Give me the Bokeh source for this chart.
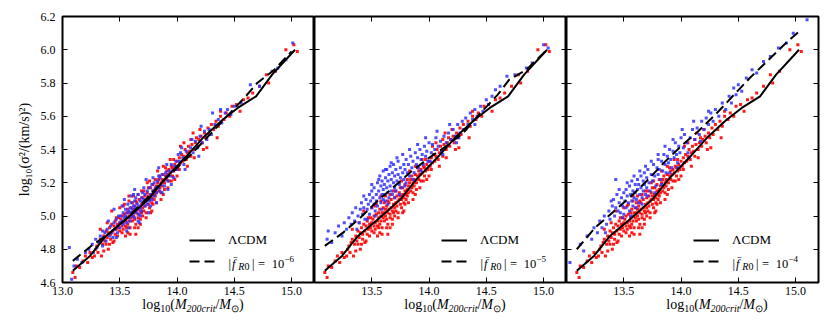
from bokeh.plotting import figure
from bokeh.layouts import row, column
from bokeh.models import Range1d, LinearAxis, FixedTicker, Label, Legend, LegendItem, Div
from bokeh.core.properties import value
from bokeh.embed import file_html
from bokeh.resources import INLINE

# ---------------- data ----------------
x_ticks = [13.0, 13.5, 14.0, 14.5, 15.0]
x_tick_labels = ["13.0", "13.5", "14.0", "14.5", "15.0"]
y_ticks = [4.6, 4.8, 5.0, 5.2, 5.4, 5.6, 5.8, 6.0, 6.2]
y_tick_labels = ["4.6", "4.8", "5.0", "5.2", "5.4", "5.6", "5.8", "6.0", "6.2"]
fr_exponents = ["6", "5", "4"]

# LCDM mean relation (solid line), same in all panels
lcdm_line_x = [13.09, 13.24, 13.38, 13.57, 13.75, 13.89, 14.07, 14.24, 14.40, 14.53, 14.69, 14.83, 15.03]
lcdm_line_y = [4.67, 4.76, 4.88, 4.99, 5.10, 5.22, 5.35, 5.48, 5.58, 5.65, 5.72, 5.85, 6.00]

# f(R) relations (dashed lines)
fr6_line_x = [13.09, 13.25, 13.40, 13.55, 13.70, 13.85, 14.00, 14.15, 14.30, 14.45, 14.60, 14.70, 14.85, 15.00]
fr6_line_y = [4.73, 4.82, 4.89, 4.98, 5.08, 5.19, 5.29, 5.39, 5.50, 5.61, 5.72, 5.80, 5.88, 5.99]
fr5_line_x = [13.09, 13.25, 13.40, 13.55, 13.70, 13.85, 14.00, 14.15, 14.30, 14.45, 14.60, 14.70, 14.85, 15.03]
fr5_line_y = [4.82, 4.90, 4.99, 5.09, 5.18, 5.27, 5.35, 5.42, 5.50, 5.62, 5.73, 5.82, 5.88, 6.00]
fr4_line_x = [13.09, 13.25, 13.40, 13.55, 13.70, 13.85, 14.00, 14.15, 14.30, 14.45, 14.60, 14.75, 14.90, 15.03]
fr4_line_y = [4.80, 4.93, 5.02, 5.11, 5.21, 5.32, 5.42, 5.51, 5.61, 5.72, 5.83, 5.93, 6.03, 6.11]

# LCDM haloes (red), same in all panels
lcdm_halos = [
    (13.09, 4.66), (13.11, 4.63), (13.12, 4.70), (13.15, 4.69), (13.18, 4.73), (13.20, 4.76), (13.22, 4.72), (13.24, 4.78),
    (13.26, 4.75), (13.28, 4.76), (13.29, 4.80), (13.30, 4.82), (13.31, 4.78), (13.32, 4.84), (13.33, 4.86), (13.34, 4.76),
    (13.35, 4.83), (13.36, 4.88), (13.37, 4.85), (13.38, 4.91), (13.38, 4.83), (13.39, 4.87), (13.40, 4.90), (13.40, 4.80),
    (13.41, 4.93), (13.42, 4.86), (13.42, 4.89), (13.43, 4.95), (13.44, 4.91), (13.44, 4.84), (13.45, 4.94), (13.46, 4.89),
    (13.46, 4.97), (13.47, 4.92), (13.48, 4.95), (13.48, 4.88), (13.49, 4.99), (13.49, 4.93), (13.50, 4.96), (13.50, 4.91),
    (13.50, 5.05), (13.43, 5.03),
    (13.51, 4.98), (13.52, 4.94), (13.52, 5.00), (13.53, 4.96), (13.53, 4.92), (13.54, 5.01), (13.55, 4.97), (13.55, 4.94),
    (13.56, 5.02), (13.56, 4.99), (13.57, 4.95), (13.57, 5.04), (13.58, 5.00), (13.58, 4.97), (13.59, 4.93), (13.59, 5.02),
    (13.60, 5.05), (13.60, 4.99), (13.55, 4.88), (13.58, 5.09), (13.53, 5.06), (13.57, 4.90),
    (13.61, 5.02), (13.61, 4.97), (13.62, 5.04), (13.62, 5.00), (13.63, 4.98), (13.63, 5.06), (13.64, 5.02), (13.64, 4.95),
    (13.65, 5.04), (13.65, 5.08), (13.66, 5.01), (13.66, 4.99), (13.67, 5.05), (13.67, 5.10), (13.68, 5.03), (13.68, 4.98),
    (13.69, 5.07), (13.69, 5.02), (13.70, 5.05), (13.70, 5.11), (13.62, 5.12), (13.66, 4.93), (13.69, 5.15), (13.64, 5.09),
    (13.71, 5.08), (13.71, 5.03), (13.72, 5.06), (13.72, 5.12), (13.73, 5.09), (13.73, 5.02), (13.74, 5.10), (13.74, 5.14),
    (13.75, 5.07), (13.75, 5.12), (13.76, 5.10), (13.76, 5.05), (13.77, 5.13), (13.77, 5.17), (13.78, 5.11), (13.78, 5.08),
    (13.79, 5.15), (13.79, 5.19), (13.80, 5.13), (13.80, 5.10), (13.74, 5.20), (13.78, 5.03),
    (13.81, 5.16), (13.81, 5.12), (13.82, 5.18), (13.82, 5.14), (13.83, 5.20), (13.84, 5.15), (13.84, 5.22), (13.85, 5.17),
    (13.86, 5.20), (13.86, 5.14), (13.87, 5.22), (13.87, 5.18), (13.88, 5.25), (13.89, 5.20), (13.89, 5.16), (13.90, 5.24),
    (13.83, 5.27), (13.88, 5.30),
    (13.91, 5.22), (13.91, 5.27), (13.92, 5.25), (13.93, 5.21), (13.93, 5.28), (13.94, 5.26), (13.95, 5.30), (13.96, 5.24),
    (13.96, 5.29), (13.97, 5.27), (13.98, 5.31), (13.99, 5.28), (14.00, 5.33), (13.94, 5.34), (13.98, 5.22),
    (14.01, 5.30), (14.02, 5.35), (14.03, 5.32), (14.04, 5.37), (14.05, 5.33), (14.06, 5.36), (14.07, 5.40), (14.08, 5.34),
    (14.09, 5.38), (14.10, 5.42), (14.03, 5.42),
    (14.11, 5.39), (14.12, 5.36), (14.13, 5.43), (14.15, 5.40), (14.16, 5.44), (14.17, 5.47), (14.18, 5.42), (14.19, 5.46),
    (14.14, 5.50),
    (14.21, 5.48), (14.22, 5.44), (14.24, 5.50), (14.25, 5.47), (14.27, 5.53), (14.28, 5.49), (14.30, 5.55), (14.26, 5.41),
    (14.32, 5.52), (14.34, 5.57), (14.36, 5.54), (14.38, 5.60), (14.41, 5.58), (14.43, 5.62), (14.46, 5.60), (14.48, 5.66),
    (14.35, 5.47), (14.38, 5.63),
    (14.52, 5.67), (14.55, 5.63), (14.58, 5.70), (14.62, 5.71), (14.66, 5.74), (14.72, 5.78), (14.80, 5.80), (14.78, 5.85),
    (14.86, 5.87), (14.95, 6.00), (15.02, 6.03), (15.05, 5.99),
    (13.45, 4.85), (13.47, 4.99), (13.52, 4.90), (13.54, 5.07), (13.56, 4.93), (13.59, 4.89), (13.61, 5.08), (13.63, 4.93),
    (13.66, 5.13), (13.68, 4.95), (13.70, 5.00), (13.71, 5.15), (13.73, 4.99), (13.75, 5.17), (13.77, 5.02), (13.79, 5.07),
    (13.81, 5.22), (13.82, 5.08), (13.85, 5.24), (13.86, 5.10), (13.88, 5.13), (13.90, 5.29), (13.92, 5.17), (13.95, 5.21),
    (13.97, 5.34), (14.00, 5.24), (14.02, 5.28), (14.06, 5.44), (14.09, 5.30), (14.12, 5.46), (14.15, 5.35), (14.20, 5.52),
    (14.23, 5.40), (13.36, 4.79), (13.33, 4.92), (13.41, 4.83), (13.39, 4.96), (13.58, 5.12), (13.64, 4.89), (13.76, 5.21),
]

# f(R) haloes (blue), |f_R0| = 1e-6
fr6_halos = [
    (13.06, 4.81), (13.08, 4.62), (13.10, 4.70), (13.13, 4.74), (13.17, 4.72), (13.20, 4.78), (13.23, 4.80), (13.26, 4.83),
    (13.27, 4.78), (13.29, 4.86), (13.30, 4.81), (13.32, 4.84), (13.33, 4.88), (13.35, 4.82), (13.36, 4.87), (13.37, 4.90),
    (13.38, 4.85), (13.39, 4.92),
    (13.41, 4.88), (13.42, 4.94), (13.43, 4.90), (13.44, 4.87), (13.45, 4.96), (13.46, 4.92), (13.47, 4.98), (13.48, 4.90),
    (13.48, 4.94), (13.49, 5.00), (13.50, 4.96), (13.50, 4.93), (13.45, 5.04),
    (13.51, 5.00), (13.52, 4.97), (13.53, 5.02), (13.53, 4.95), (13.54, 4.99), (13.55, 5.04), (13.55, 5.00), (13.56, 4.96),
    (13.57, 5.02), (13.57, 5.07), (13.58, 4.99), (13.58, 5.03), (13.59, 5.05), (13.59, 4.97), (13.60, 5.02), (13.60, 5.08),
    (13.54, 5.10), (13.56, 4.91),
    (13.61, 5.04), (13.61, 5.00), (13.62, 5.06), (13.62, 5.02), (13.63, 5.09), (13.63, 4.99), (13.64, 5.05), (13.64, 5.11),
    (13.65, 5.02), (13.65, 5.07), (13.66, 5.04), (13.66, 5.13), (13.67, 5.06), (13.67, 5.01), (13.68, 5.09), (13.68, 5.05),
    (13.69, 5.11), (13.69, 5.03), (13.70, 5.08), (13.70, 5.14), (13.63, 5.16), (13.67, 4.96),
    (13.71, 5.10), (13.72, 5.06), (13.72, 5.13), (13.73, 5.09), (13.74, 5.15), (13.74, 5.07), (13.75, 5.11), (13.76, 5.17),
    (13.76, 5.09), (13.77, 5.13), (13.78, 5.19), (13.78, 5.10), (13.79, 5.15), (13.80, 5.12), (13.80, 5.20), (13.73, 5.22),
    (13.81, 5.17), (13.82, 5.14), (13.83, 5.21), (13.84, 5.17), (13.85, 5.23), (13.85, 5.15), (13.86, 5.19), (13.87, 5.25),
    (13.88, 5.21), (13.89, 5.18), (13.90, 5.26), (13.84, 5.29),
    (13.91, 5.24), (13.92, 5.21), (13.93, 5.27), (13.94, 5.24), (13.95, 5.31), (13.96, 5.27), (13.97, 5.23), (13.98, 5.30),
    (13.99, 5.33), (14.00, 5.28),
    (14.02, 5.33), (14.03, 5.38), (14.05, 5.35), (14.06, 5.31), (14.08, 5.39), (14.10, 5.36), (14.12, 5.41), (14.14, 5.38),
    (14.16, 5.45), (14.18, 5.41), (14.20, 5.48), (14.22, 5.44), (14.24, 5.51), (14.26, 5.46), (14.28, 5.52), (14.30, 5.49),
    (14.31, 5.62), (14.33, 5.55), (14.36, 5.58), (14.38, 5.64), (14.39, 5.56), (14.42, 5.62), (14.44, 5.64), (14.47, 5.61),
    (14.50, 5.66), (14.56, 5.68), (14.64, 5.79), (14.72, 5.78), (14.83, 5.87), (14.88, 5.89), (14.95, 5.94), (15.01, 6.04),
    (13.47, 4.87), (13.52, 5.06), (13.58, 4.93), (13.62, 5.13), (13.66, 4.97), (13.71, 5.17), (13.75, 5.02), (13.79, 5.23),
    (13.82, 5.08), (13.87, 5.14), (13.91, 5.31), (13.95, 5.19), (14.01, 5.37), (14.07, 5.28), (14.13, 5.46), (14.19, 5.36),
    (13.40, 4.97), (13.35, 4.91), (13.60, 5.12), (13.68, 5.00), (13.77, 5.06), (13.84, 5.24), (13.92, 5.16), (14.04, 5.41),
    (14.21, 5.54),
]

# f(R) haloes (blue), |f_R0| = 1e-5
fr5_halos = [
    (13.11, 4.86), (13.12, 4.91), (13.15, 4.84), (13.18, 4.90), (13.21, 4.94), (13.24, 4.88), (13.26, 4.96), (13.28, 4.92),
    (13.30, 4.99), (13.32, 4.95), (13.33, 5.02), (13.35, 4.97), (13.36, 5.05), (13.38, 5.00), (13.39, 4.96), (13.40, 5.04),
    (13.41, 5.08), (13.42, 5.01), (13.43, 5.05), (13.44, 4.98), (13.45, 5.10), (13.46, 5.04), (13.47, 5.07), (13.48, 5.13),
    (13.48, 5.01), (13.49, 5.09), (13.50, 5.05), (13.50, 5.15),
    (13.51, 5.11), (13.52, 5.07), (13.52, 5.17), (13.53, 5.03), (13.54, 5.13), (13.54, 5.09), (13.55, 5.20), (13.55, 5.06),
    (13.56, 5.15), (13.57, 5.11), (13.57, 5.24), (13.58, 5.08), (13.58, 5.18), (13.59, 5.13), (13.59, 5.21), (13.60, 5.10),
    (13.60, 5.16), (13.60, 5.27),
    (13.61, 5.19), (13.61, 5.13), (13.62, 5.23), (13.62, 5.09), (13.63, 5.17), (13.63, 5.28), (13.64, 5.14), (13.64, 5.21),
    (13.65, 5.25), (13.65, 5.11), (13.66, 5.18), (13.66, 5.30), (13.67, 5.15), (13.67, 5.22), (13.68, 5.26), (13.68, 5.13),
    (13.69, 5.20), (13.69, 5.31), (13.70, 5.17), (13.70, 5.24),
    (13.71, 5.28), (13.71, 5.15), (13.72, 5.21), (13.73, 5.25), (13.73, 5.33), (13.74, 5.19), (13.75, 5.23), (13.75, 5.29),
    (13.76, 5.17), (13.77, 5.26), (13.78, 5.31), (13.78, 5.22), (13.79, 5.28), (13.80, 5.20), (13.80, 5.34),
    (13.81, 5.26), (13.82, 5.31), (13.83, 5.24), (13.84, 5.36), (13.85, 5.29), (13.86, 5.33), (13.87, 5.26), (13.88, 5.38),
    (13.89, 5.31), (13.90, 5.35),
    (13.91, 5.29), (13.92, 5.40), (13.93, 5.34), (13.94, 5.37), (13.95, 5.31), (13.96, 5.42), (13.97, 5.36), (13.98, 5.39),
    (13.99, 5.33), (14.00, 5.44),
    (14.02, 5.38), (14.03, 5.43), (14.05, 5.40), (14.06, 5.47), (14.08, 5.42), (14.10, 5.45), (14.11, 5.39), (14.13, 5.48),
    (14.15, 5.44), (14.17, 5.50), (14.19, 5.46), (14.21, 5.52), (14.23, 5.48), (14.25, 5.55), (14.26, 5.47), (14.27, 5.50),
    (14.29, 5.57), (14.30, 5.52),
    (14.32, 5.59), (14.34, 5.55), (14.36, 5.62), (14.38, 5.58), (14.40, 5.64), (14.40, 5.55), (14.42, 5.60), (14.45, 5.66),
    (14.47, 5.63), (14.50, 5.70), (14.52, 5.67), (14.55, 5.72), (14.58, 5.76), (14.62, 5.78), (14.68, 5.84), (14.75, 5.85),
    (14.85, 5.89), (14.90, 5.92), (15.00, 6.03), (15.04, 6.01),
    (13.46, 4.98), (13.50, 5.19), (13.53, 5.00), (13.56, 5.22), (13.59, 5.04), (13.62, 5.28), (13.64, 5.07), (13.67, 5.32),
    (13.70, 5.11), (13.72, 5.35), (13.74, 5.13), (13.77, 5.37), (13.79, 5.18), (13.83, 5.40), (13.86, 5.22), (13.90, 5.43),
    (13.93, 5.27), (13.97, 5.47), (14.01, 5.33), (14.07, 5.51), (14.12, 5.37), (14.18, 5.55), (14.24, 5.44), (13.43, 5.12),
    (13.37, 4.92),
]

# f(R) haloes (blue), |f_R0| = 1e-4
fr4_halos = [
    (13.03, 4.72), (13.12, 4.83), (13.15, 4.79), (13.18, 4.88), (13.22, 4.86), (13.24, 4.93), (13.27, 4.90), (13.29, 4.97),
    (13.31, 4.93), (13.33, 5.00), (13.35, 4.95), (13.37, 5.03), (13.38, 4.98), (13.40, 5.06), (13.41, 5.10), (13.42, 5.00),
    (13.43, 5.05), (13.44, 5.13), (13.45, 5.03), (13.46, 5.08), (13.47, 5.02), (13.48, 5.11), (13.49, 5.06), (13.50, 5.14),
    (13.50, 5.01), (13.43, 5.22),
    (13.51, 5.09), (13.52, 5.16), (13.52, 5.05), (13.53, 5.12), (13.54, 5.08), (13.55, 5.18), (13.55, 5.03), (13.56, 5.13),
    (13.57, 5.09), (13.57, 5.21), (13.58, 5.15), (13.58, 5.06), (13.59, 5.11), (13.60, 5.19), (13.60, 5.14),
    (13.61, 5.10), (13.62, 5.22), (13.62, 5.16), (13.63, 5.08), (13.63, 5.19), (13.64, 5.13), (13.65, 5.24), (13.65, 5.17),
    (13.66, 5.11), (13.67, 5.21), (13.67, 5.15), (13.68, 5.26), (13.68, 5.19), (13.69, 5.13), (13.70, 5.23), (13.70, 5.17),
    (13.71, 5.28), (13.72, 5.20), (13.73, 5.15), (13.74, 5.25), (13.75, 5.21), (13.76, 5.31), (13.77, 5.24), (13.78, 5.18),
    (13.79, 5.29), (13.80, 5.25), (13.80, 5.34),
    (13.81, 5.28), (13.82, 5.22), (13.83, 5.33), (13.84, 5.27), (13.85, 5.37), (13.86, 5.31), (13.87, 5.26), (13.88, 5.36),
    (13.89, 5.32), (13.90, 5.40),
    (13.91, 5.34), (13.92, 5.29), (13.93, 5.39), (13.94, 5.35), (13.95, 5.44), (13.96, 5.37), (13.97, 5.32), (13.98, 5.42),
    (13.99, 5.38), (14.00, 5.47),
    (14.02, 5.41), (14.03, 5.49), (14.05, 5.44), (14.06, 5.38), (14.08, 5.47), (14.10, 5.52), (14.12, 5.46), (14.14, 5.53),
    (14.16, 5.49), (14.18, 5.57), (14.20, 5.52), (14.22, 5.59), (14.24, 5.55), (14.26, 5.62), (14.28, 5.57), (14.30, 5.64),
    (14.33, 5.60), (14.36, 5.68), (14.39, 5.64), (14.42, 5.72), (14.44, 5.68), (14.46, 5.77), (14.48, 5.73), (14.50, 5.79),
    (14.53, 5.75), (14.57, 5.83), (14.62, 5.88), (14.66, 5.86), (14.72, 5.93), (14.78, 5.96), (14.85, 6.01), (14.92, 6.04),
    (14.98, 6.10), (15.10, 6.18),
    (13.46, 5.16), (13.49, 4.99), (13.53, 5.20), (13.56, 5.00), (13.59, 5.24), (13.61, 5.05), (13.64, 5.27), (13.66, 5.07),
    (13.69, 5.30), (13.71, 5.12), (13.74, 5.33), (13.77, 5.14), (13.80, 5.37), (13.83, 5.19), (13.86, 5.42), (13.90, 5.26),
    (13.93, 5.46), (13.97, 5.29), (14.01, 5.52), (14.07, 5.35), (14.11, 5.57), (14.17, 5.45), (14.24, 5.63), (13.39, 5.09),
    (13.34, 4.90),
]

panels = [
    (fr6_halos, fr6_line_x, fr6_line_y),
    (fr5_halos, fr5_line_x, fr5_line_y),
    (fr4_halos, fr4_line_x, fr4_line_y),
]

# ---------------- styling ----------------
SERIF = "Liberation Serif"
FRAME_W, FRAME_H = 252, 266
LEFT_BORDER, TOP_BORDER, BOTTOM_BORDER = 62, 16, 20
RED, BLUE = "#ff0000", "#3030ff"


def add_axis(p, side, ticks, labels, show):
    ax = LinearAxis(ticker=FixedTicker(ticks=ticks, minor_ticks=[]))
    ax.axis_line_color = None
    ax.major_tick_in = 5
    ax.major_tick_out = 0
    ax.minor_tick_in = 0
    ax.minor_tick_out = 0
    ax.major_tick_line_color = "black"
    ax.major_tick_line_width = 1
    if show:
        ax.major_label_overrides = {t: s for t, s in zip(ticks, labels)}
        ax.major_label_text_font = SERIF
        ax.major_label_text_font_size = "12px"
        ax.major_label_text_color = "black"
        ax.major_label_standoff = 4 if side == "below" else 7
    else:
        ax.major_label_overrides = {t: "" for t in ticks}
        ax.major_label_text_font_size = "0px"
        ax.major_label_standoff = 0
    p.add_layout(ax, side)
    return ax


def add_runs_left(p, runs, x0, y0):
    x = x0
    for text, size, style, dy, em in runs:
        p.add_layout(Label(x=x, y=y0 + dy, x_units="screen", y_units="screen", text=text,
                           text_font=SERIF, text_font_size=f"{size}px", text_font_style=style,
                           text_align="left", text_baseline="alphabetic", text_color="black"))
        x += em * size


figs = []
divs = []
lcdm_x = [h[0] for h in lcdm_halos]
lcdm_y = [h[1] for h in lcdm_halos]
for i, (halos, dx, dy) in enumerate(panels):
    first = i == 0
    last = i == len(panels) - 1
    bl = LEFT_BORDER if first else 0
    br = 4 if last else 0
    p = figure(frame_width=FRAME_W, frame_height=FRAME_H,
               x_range=Range1d(13.0, 15.2), y_range=Range1d(4.6, 6.2),
               output_backend="svg", toolbar_location=None,
               x_axis_location=None, y_axis_location=None,
               min_border_left=bl, min_border_right=br,
               min_border_top=TOP_BORDER, min_border_bottom=BOTTOM_BORDER,
               outline_line_color="black", outline_line_width=2,
               background_fill_color="white", border_fill_color="white")
    p.xgrid.visible = False
    p.ygrid.visible = False

    bx = [h[0] for h in halos]
    by = [h[1] for h in halos]
    p.scatter(lcdm_x, lcdm_y, marker="square", size=3, fill_color=RED, line_color=None, fill_alpha=0.9)
    p.scatter(bx, by, marker="square", size=3, fill_color=BLUE, line_color=None, fill_alpha=0.85)
    solid = p.line(lcdm_line_x, lcdm_line_y, line_color="black", line_width=2)
    dashed = p.line(dx, dy, line_color="black", line_width=2, line_dash="10 5")

    # axes
    bottom_ticks = x_ticks if first else x_ticks[1:]
    bottom_labels = x_tick_labels if first else x_tick_labels[1:]
    add_axis(p, "below", bottom_ticks, bottom_labels, True)
    add_axis(p, "above", x_ticks[1:], x_tick_labels[1:], False)
    left = add_axis(p, "left", y_ticks, y_tick_labels, first)
    add_axis(p, "right", y_ticks, y_tick_labels, False)
    if first:
        left.axis_label = "log\u2081\u2080(\u03c3\u00b2/(km/s)\u00b2)"
        left.axis_label_text_font = SERIF
        left.axis_label_text_font_size = "14px"
        left.axis_label_text_font_style = "normal"
        left.axis_label_text_color = "black"
        left.axis_label_standoff = 6

    # legend (line samples + LCDM label)
    legend = Legend(items=[LegendItem(label=value("\u039bCDM"), renderers=[solid]),
                           LegendItem(label=value(" "), renderers=[dashed])],
                    location=(127, 11.5), padding=0, margin=0, spacing=1,
                    glyph_width=26, glyph_height=20, label_height=20, label_standoff=13,
                    label_text_font=SERIF, label_text_font_size="13px", label_text_color="black",
                    border_line_color=None, background_fill_alpha=0)
    p.add_layout(legend)

    # legend second label: |f_R0| = 10^-n
    lab2 = [
        ("|", 12.5, "normal", 0, 0.28),
        ("f\u0304", 12.5, "italic", 0, 0.5),
        ("R", 10, "italic", -3, 0.62),
        ("0", 10, "normal", -3, 0.75),
        ("|", 12.5, "normal", 0, 0.48),
        ("=", 12.5, "normal", 0, 1.1),
        ("10", 12.5, "normal", 0, 1.016),
        ("\u2212" + fr_exponents[i], 9, "normal", 5, 1.0),
    ]
    add_runs_left(p, lab2, 166, 19)
    figs.append(p)

    # x axis label under each panel (HTML text)
    sub = "font-size:10px;vertical-align:-3px;line-height:0"
    html = ("<div style=\"width:%dpx;margin-left:%dpx;text-align:center;"
            "font-family:'Liberation Serif',serif;font-size:14px;line-height:16px;color:#000;"
            "position:relative;top:-10px;white-space:nowrap\">"
            "log<sub style='%s'>10</sub>(<i>M</i><sub style='%s'><i>200crit</i></sub>/"
            "<i>M</i><sub style='%s'>\u2299</sub>)</div>") % (FRAME_W, bl, sub, sub, sub)
    divs.append(Div(text=html, width=bl + FRAME_W + br, height=24))

layout = column(row(*figs), row(*divs))
open("out.html", "w").write(file_html(layout, INLINE))
